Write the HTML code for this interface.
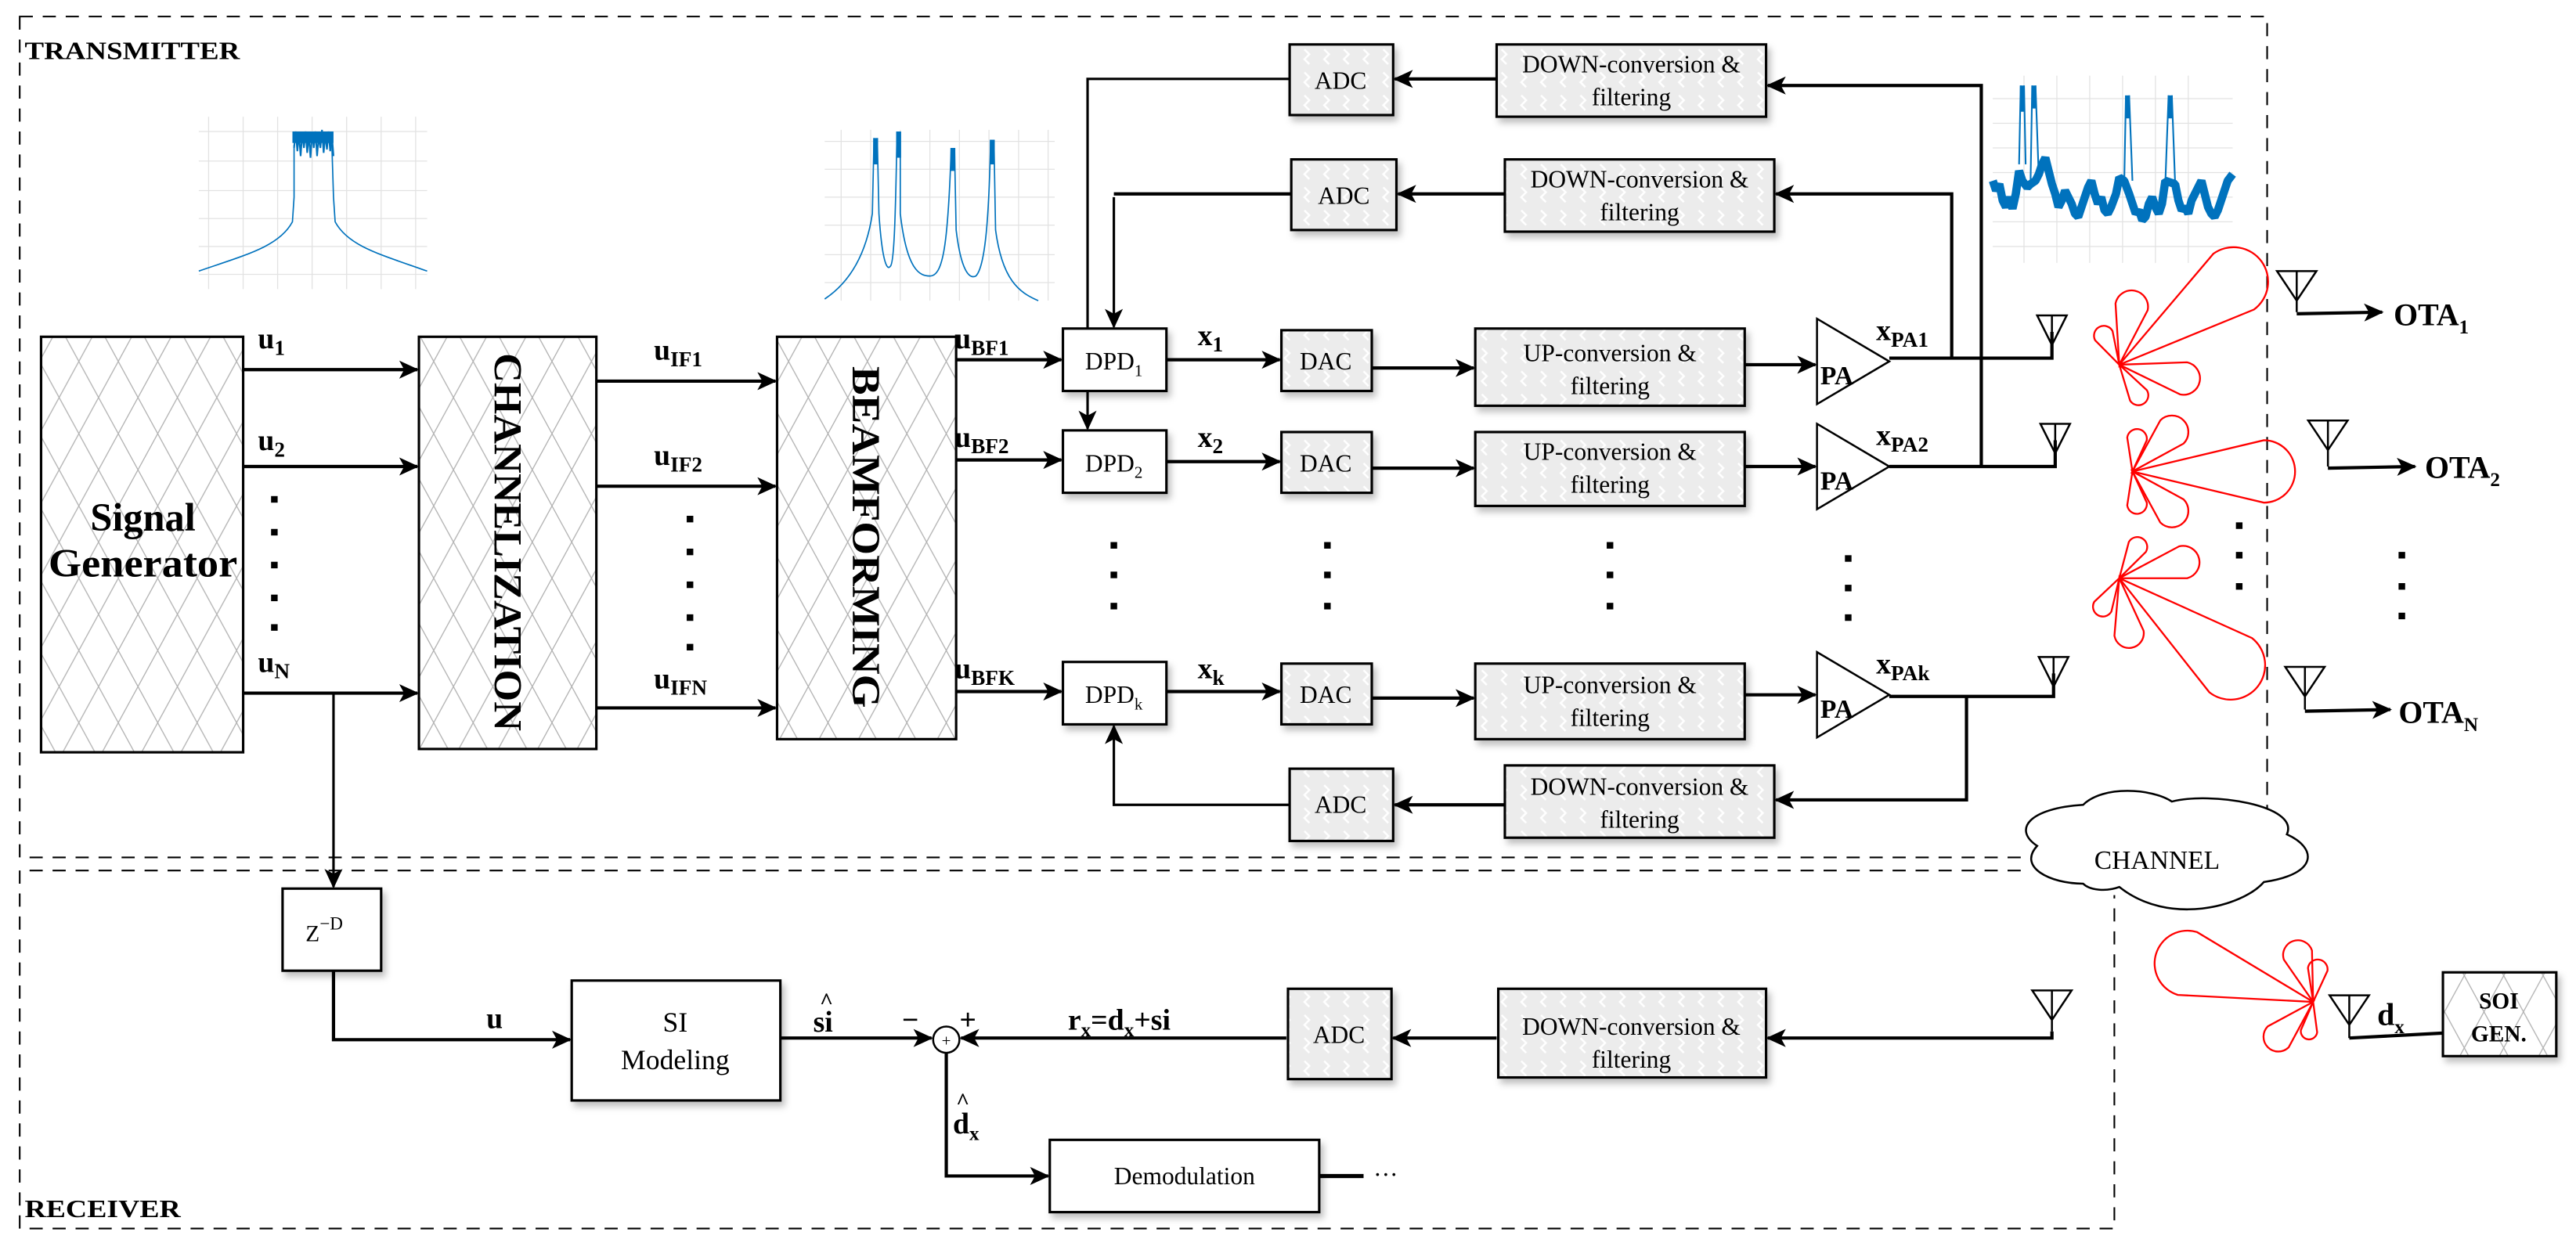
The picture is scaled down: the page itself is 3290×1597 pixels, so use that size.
<!DOCTYPE html>
<html><head><meta charset="utf-8"><style>
html,body{margin:0;padding:0;background:#fff;}
svg{display:block;}
text{font-family:"Liberation Serif",serif;fill:#000;}
.b{font-weight:bold;}
</style></head><body>
<svg xmlns="http://www.w3.org/2000/svg" width="3290" height="1597" viewBox="0 0 1568 761">
<defs>
<marker id="ar" markerUnits="userSpaceOnUse" markerWidth="12" markerHeight="12" viewBox="0 0 12 12" refX="11" refY="6" orient="auto">
<path d="M0,0.5 L12,6 L0,11.5 L3,6 z" fill="#000"/></marker>
<pattern id="xh" patternUnits="userSpaceOnUse" width="24" height="44">
<rect width="24" height="44" fill="#fff"/>
<path d="M0,0 L24,44 M24,0 L0,44" stroke="#b0b0b0" stroke-width="0.6"/></pattern>
<pattern id="gh" patternUnits="userSpaceOnUse" width="12" height="14">
<rect width="12" height="14" fill="#ececec"/>
<path d="M2,2 l3,3 l-3,3 l3,3" stroke="#fff" stroke-width="1.2" fill="none"/></pattern>
<filter id="sh" x="-10%" y="-10%" width="130%" height="140%"><feDropShadow dx="2" dy="3" stdDeviation="2" flood-opacity="0.25"/></filter>
</defs>

<g fill="none" stroke="#000" stroke-width="1" stroke-dasharray="8,6">
<path d="M12,10 L1380,10 L1380,522 L12,522 Z"/>
<path d="M1230,530 L12,530 L12,748 L1287,748 L1287,545"/>
</g>
<text x="15" y="36" class="b" font-size="15" textLength="131" lengthAdjust="spacingAndGlyphs">TRANSMITTER</text>
<text x="15" y="741" class="b" font-size="15" textLength="95" lengthAdjust="spacingAndGlyphs">RECEIVER</text>

<g stroke="#e2e2e2" stroke-width="0.6">
<path d="M121,80 H260 M121,98 H260 M121,116 H260 M121,133 H260 M121,150 H260 M121,167 H260 M127,71 V176 M148,71 V176 M169,71 V176 M190,71 V176 M211,71 V176 M232,71 V176 M253,71 V176"/>
<path d="M502,86 H642 M502,103 H642 M502,120 H642 M502,137 H642 M502,155 H642 M502,172 H642 M512,79 V183 M530,79 V183 M548,79 V183 M566,79 V183 M584,79 V183 M602,79 V183 M620,79 V183 M638,79 V183"/>
<path d="M1213,60 H1359 M1213,75 H1359 M1213,90 H1359 M1213,105 H1359 M1213,120 H1359 M1213,135 H1359 M1213,150 H1359 M1232,46 V160 M1252,46 V160 M1272,46 V160 M1292,46 V160 M1312,46 V160 M1332,46 V160"/>
</g>
<g fill="none" stroke="#0072BD">
<path stroke-width="0.8" d="M121,165 C150,155 170,150 178,135 L179,120 L179,88 M202,88 L203,120 L204,135 C212,150 232,155 260,165"/>
<path stroke-width="1" d="M179,90 L180,80 181,92 182,82 183,95 184,81 185,90 186,80 187,93 188,82 189,96 190,81 191,90 192,80 193,95 194,83 195,90 196,79 197,93 198,82 199,91 200,80 201,92 202,82 203,95"/>
<rect x="178" y="80" width="25" height="7" fill="#0072BD" stroke="none"/>
<path stroke-width="0.8" d="M502,182 C520,170 528,150 531,130 L532,84 M534,84 L535,130 C537,160 540,165 542,162 C544,160 545,140 546,80 M548,80 L548,130 C552,165 560,168 566,168 C574,168 577,150 579,90 M581,90 L582,140 C585,165 590,170 594,168 C600,162 602,130 603,85 M605,85 L606,140 C610,170 620,178 632,183"/>
<path stroke-width="3" d="M533,84 V100 M547,80 V96 M580,90 V104 M604,85 V100"/>
<path stroke-width="5" stroke-linejoin="bevel" d="M1213,110 L1215,116 1217,112 1219,122 1221,126 1223,120 1225,127 1227,118 1229,104 1231,110 1234,114 1236,112 1239,110 1241,106 1243,100 1245,96 1247,104 1249,112 1251,118 1253,126 1255,122 1257,116 1259,120 1261,124 1263,130 1265,132 1267,126 1269,120 1271,114 1273,110 1275,118 1277,124 1279,120 1281,128 1283,130 1285,126 1288,118 1290,108 1293,110 1296,118 1298,124 1300,130 1302,128 1304,134 1306,132 1308,124 1310,120 1312,126 1314,130 1316,124 1318,110 1324,112 1326,122 1328,128 1330,126 1332,130 1334,122 1336,118 1338,114 1340,110 1342,118 1344,126 1346,130 1348,132 1350,128 1352,122 1354,116 1356,110 1359,106"/>
<path stroke-width="1" d="M1229,100 L1230,52 M1232,52 L1233,100 M1236,110 L1237,52 M1239,52 L1241,108 M1293,112 L1294,60 M1296,58 L1298,110 M1318,112 L1320,58 M1322,58 L1324,112"/>
<path stroke-width="3" d="M1231,52 V68 M1238,52 V66 M1295,58 V72 M1321,58 V72"/>
</g>

<rect x="25" y="205" width="123" height="253" fill="url(#xh)" stroke="#000" stroke-width="1.5"/>
<text x="87" y="323" class="b" font-size="24" text-anchor="middle">Signal</text>
<text x="87" y="351" class="b" font-size="24" text-anchor="middle" textLength="115" lengthAdjust="spacingAndGlyphs">Generator</text>
<rect x="255" y="205" width="108" height="251" fill="url(#xh)" stroke="#000" stroke-width="1.5"/>
<text transform="translate(309,330) rotate(90)" class="b" font-size="24" text-anchor="middle" dy="8" textLength="230" lengthAdjust="spacingAndGlyphs">CHANNELIZATION</text>
<rect x="473" y="205" width="109" height="245" fill="url(#xh)" stroke="#000" stroke-width="1.5"/>
<text transform="translate(527,327) rotate(90)" class="b" font-size="24" text-anchor="middle" dy="8" textLength="208" lengthAdjust="spacingAndGlyphs">BEAMFORMING</text>

<g stroke="#000" stroke-width="2" fill="none" marker-end="url(#ar)">
<path d="M148,225 H254"/><path d="M148,284 H254"/><path d="M148,422 H254"/>
<path d="M363,232 H472"/><path d="M363,296 H472"/><path d="M363,431 H472"/>
<path d="M582,219 H646"/><path d="M582,280 H646"/><path d="M582,421 H646"/>
</g>
<g class="b" font-size="18">
<text x="157" y="212" class="b">u<tspan font-size="13" dy="4">1</tspan></text>
<text x="157" y="274" class="b">u<tspan font-size="13" dy="4">2</tspan></text>
<text x="157" y="409" class="b">u<tspan font-size="13" dy="4">N</tspan></text>
<text x="398" y="219" class="b">u<tspan font-size="13" dy="4">IF1</tspan></text>
<text x="398" y="283" class="b">u<tspan font-size="13" dy="4">IF2</tspan></text>
<text x="398" y="419" class="b">u<tspan font-size="13" dy="4">IFN</tspan></text>
<text x="581" y="212" class="b">u<tspan font-size="13" dy="4">BF1</tspan></text>
<text x="581" y="272" class="b">u<tspan font-size="13" dy="4">BF2</tspan></text>
<text x="581" y="413" class="b">u<tspan font-size="13" dy="4">BFK</tspan></text>
<text x="729" y="210" class="b">x<tspan font-size="13" dy="4">1</tspan></text>
<text x="729" y="272" class="b">x<tspan font-size="13" dy="4">2</tspan></text>
<text x="729" y="413" class="b">x<tspan font-size="13" dy="4">k</tspan></text>
<text x="1142" y="207" class="b">x<tspan font-size="13" dy="4">PA1</tspan></text>
<text x="1142" y="271" class="b">x<tspan font-size="13" dy="4">PA2</tspan></text>
<text x="1142" y="410" class="b">x<tspan font-size="13" dy="4">PAk</tspan></text>
</g>
<g fill="#000">
<rect x="165" y="302" width="4" height="4"/><rect x="165" y="322" width="4" height="4"/><rect x="165" y="342" width="4" height="4"/><rect x="165" y="362" width="4" height="4"/><rect x="165" y="380" width="4" height="4"/>
<rect x="418" y="314" width="4" height="4"/><rect x="418" y="334" width="4" height="4"/><rect x="418" y="354" width="4" height="4"/><rect x="418" y="374" width="4" height="4"/><rect x="418" y="392" width="4" height="4"/>
<rect x="676" y="330" width="4" height="4"/><rect x="676" y="348" width="4" height="4"/><rect x="676" y="367" width="4" height="4"/>
<rect x="806" y="330" width="4" height="4"/><rect x="806" y="348" width="4" height="4"/><rect x="806" y="367" width="4" height="4"/>
<rect x="978" y="330" width="4" height="4"/><rect x="978" y="348" width="4" height="4"/><rect x="978" y="367" width="4" height="4"/>
<rect x="1123" y="338" width="4" height="4"/><rect x="1123" y="356" width="4" height="4"/><rect x="1123" y="374" width="4" height="4"/>
<rect x="1361" y="318" width="4" height="4"/><rect x="1361" y="336" width="4" height="4"/><rect x="1361" y="355" width="4" height="4"/>
<rect x="1460" y="336" width="4" height="4"/><rect x="1460" y="355" width="4" height="4"/><rect x="1460" y="373" width="4" height="4"/>
</g>

<g fill="#fff" stroke="#000" stroke-width="1.5" filter="url(#sh)">
<rect x="647" y="200" width="63" height="38"/><rect x="647" y="262" width="63" height="38"/><rect x="647" y="403" width="63" height="38"/>
<rect x="172" y="541" width="60" height="50"/><rect x="348" y="597" width="127" height="73"/><rect x="639" y="694" width="164" height="44"/>
</g>
<g font-size="15">
<text x="678" y="225" text-anchor="middle">DPD<tspan font-size="10" dy="4">1</tspan></text>
<text x="678" y="287" text-anchor="middle">DPD<tspan font-size="10" dy="4">2</tspan></text>
<text x="678" y="428" text-anchor="middle">DPD<tspan font-size="10" dy="4">k</tspan></text>
<text x="186" y="573" font-size="14">Z<tspan font-size="11" dy="-7">−D</tspan></text>
<text x="411" y="628" text-anchor="middle" font-size="17">SI</text>
<text x="411" y="651" text-anchor="middle" font-size="17">Modeling</text>
<text x="721" y="721" text-anchor="middle">Demodulation</text>
</g>

<g fill="url(#gh)" stroke="#000" stroke-width="1.5" filter="url(#sh)">
<rect x="780" y="201" width="55" height="37"/><rect x="780" y="263" width="55" height="37"/><rect x="780" y="404" width="55" height="37"/>
<rect x="898" y="200" width="164" height="47"/><rect x="898" y="263" width="164" height="45"/><rect x="898" y="404" width="164" height="46"/>
<rect x="785" y="27" width="63" height="43"/><rect x="911" y="27" width="164" height="44"/>
<rect x="786" y="97" width="64" height="43"/><rect x="916" y="97" width="164" height="44"/>
<rect x="785" y="468" width="63" height="44"/><rect x="916" y="466" width="164" height="44"/>
<rect x="784" y="602" width="63" height="55"/><rect x="912" y="602" width="163" height="54"/>
</g>
<g font-size="15" text-anchor="middle">
<text x="807" y="225">DAC</text><text x="807" y="287">DAC</text><text x="807" y="428">DAC</text>
<text x="980" y="220">UP-conversion &amp;</text><text x="980" y="240">filtering</text>
<text x="980" y="280">UP-conversion &amp;</text><text x="980" y="300">filtering</text>
<text x="980" y="422">UP-conversion &amp;</text><text x="980" y="442">filtering</text>
<text x="816" y="54">ADC</text><text x="993" y="44">DOWN-conversion &amp;</text><text x="993" y="64">filtering</text>
<text x="818" y="124">ADC</text><text x="998" y="114">DOWN-conversion &amp;</text><text x="998" y="134">filtering</text>
<text x="816" y="495">ADC</text><text x="998" y="484">DOWN-conversion &amp;</text><text x="998" y="504">filtering</text>
<text x="815" y="635">ADC</text><text x="993" y="630">DOWN-conversion &amp;</text><text x="993" y="650">filtering</text>
</g>

<g fill="#fff" stroke="#000" stroke-width="1.2">
<path d="M1106,194 L1150,220 L1106,246 Z"/><path d="M1106,258 L1150,284 L1106,310 Z"/><path d="M1106,397 L1150,423 L1106,449 Z"/>
</g>
<g class="b" font-size="16">
<text x="1108" y="234" class="b">PA</text><text x="1108" y="298" class="b">PA</text><text x="1108" y="437" class="b">PA</text>
</g>

<g stroke="#000" stroke-width="2" fill="none" marker-end="url(#ar)">
<path d="M710,219 H779"/><path d="M710,281 H779"/><path d="M710,421 H779"/>
<path d="M835,224 H897"/><path d="M835,285 H897"/><path d="M835,425 H897"/>
<path d="M1062,222 H1105"/><path d="M1062,284 H1105"/><path d="M1062,423 H1105"/>
<path d="M1206,284 V52 H1076"/><path d="M911,48 H849"/>
<path d="M1188,218 V118 H1081"/><path d="M916,118 H851"/>
<path d="M1197,424 V487 H1081"/><path d="M916,490 H849"/>
<path d="M678,120 V199" stroke-width="1.5"/>
<path d="M662,238 V261" stroke-width="1.5"/>
<path d="M785,490 H678 V442" stroke-width="1.5"/>
</g>
<g stroke="#000" stroke-width="2" fill="none">
<path d="M785,48 H662 V200" stroke-width="1.5"/>
<path d="M786,118 H678"/>
<path d="M1150,218 H1249 V202"/><path d="M1150,284 H1251 V268"/><path d="M1150,424 H1250 V410"/>
</g>
<g fill="none" stroke="#000" stroke-width="1.2">
<path d="M1240,192 L1258,192 L1249,210 Z M1249,192 V210"/>
<path d="M1242,258 L1260,258 L1251,276 Z M1251,258 V276"/>
<path d="M1241,400 L1259,400 L1250,418 Z M1250,400 V418"/>
<path d="M1386,165 L1410,165 L1398,183 Z M1398,165 V190"/>
<path d="M1405,256 L1429,256 L1417,274 Z M1417,256 V284"/>
<path d="M1391,406 L1415,406 L1403,424 Z M1403,406 V432"/>
<path d="M1237,603 L1261,603 L1249,621 Z M1249,603 V628"/>
<path d="M1418,606 L1442,606 L1430,624 Z M1430,606 V632"/>
</g>
<g stroke="#000" stroke-width="2" fill="none" marker-end="url(#ar)">
<path d="M1398,191 L1450,190"/><path d="M1417,285 L1470,284"/><path d="M1403,433 L1455,432"/>
</g>
<g class="b" font-size="19">
<text x="1457" y="198" class="b">OTA<tspan font-size="12" dy="5">1</tspan></text>
<text x="1476" y="291" class="b">OTA<tspan font-size="12" dy="5">2</tspan></text>
<text x="1460" y="440" class="b">OTA<tspan font-size="12" dy="5">N</tspan></text>
</g>

<g fill="none" stroke="#ff0000" stroke-width="1.1">
<g transform="translate(1290,222)">
<path transform="rotate(-36)" d="M0,0 L86,-21 A21,21 0 1 1 86,21 Z"/>
<path transform="rotate(-78)" d="M0,0 L36,-10 A10,10 0 1 1 36,10 Z"/>
<path transform="rotate(-118)" d="M0,0 L20,-6 A6,6 0 1 1 20,6 Z"/>
<path transform="rotate(12)" d="M0,0 L40,-10 A10,10 0 1 1 40,10 Z"/>
<path transform="rotate(58)" d="M0,0 L22,-6 A6,6 0 1 1 22,6 Z"/>
</g>
<g transform="translate(1298,287)">
<path transform="rotate(0)" d="M0,0 L80,-19 A19,19 0 1 1 80,19 Z"/>
<path transform="rotate(-45)" d="M0,0 L34,-10 A10,10 0 1 1 34,10 Z"/>
<path transform="rotate(-82)" d="M0,0 L20,-6 A6,6 0 1 1 20,6 Z"/>
<path transform="rotate(45)" d="M0,0 L34,-10 A10,10 0 1 1 34,10 Z"/>
<path transform="rotate(82)" d="M0,0 L20,-6 A6,6 0 1 1 20,6 Z"/>
</g>
<g transform="translate(1290,352)">
<path transform="rotate(38)" d="M0,0 L86,-21 A21,21 0 1 1 86,21 Z"/>
<path transform="rotate(-14)" d="M0,0 L40,-10 A10,10 0 1 1 40,10 Z"/>
<path transform="rotate(-60)" d="M0,0 L22,-6 A6,6 0 1 1 22,6 Z"/>
<path transform="rotate(80)" d="M0,0 L34,-9 A9,9 0 1 1 34,9 Z"/>
<path transform="rotate(120)" d="M0,0 L20,-6 A6,6 0 1 1 20,6 Z"/>
</g>
<g transform="translate(1408,610)">
<path transform="rotate(-163)" d="M0,0 L80,-20 A20,20 0 1 1 80,20 Z"/>
<path transform="rotate(-108)" d="M0,0 L30,-9 A9,9 0 1 1 30,9 Z"/>
<path transform="rotate(-82)" d="M0,0 L20,-6 A6,6 0 1 1 20,6 Z"/>
<path transform="rotate(135)" d="M0,0 L30,-9 A9,9 0 1 1 30,9 Z"/>
<path transform="rotate(98)" d="M0,0 L18,-5 A5,5 0 1 1 18,5 Z"/>
</g>
</g>

<path d="M1268,538 C1248,538 1228,528 1240,515 C1225,505 1235,492 1268,490 C1280,478 1310,480 1322,488 C1345,482 1400,490 1392,508 C1410,516 1412,532 1378,537 C1365,552 1320,564 1290,540 C1282,543 1272,542 1268,538 Z" fill="#fff" stroke="#000" stroke-width="1.2"/>
<text x="1313" y="529" text-anchor="middle" font-size="16">CHANNEL</text>

<rect x="1487" y="592" width="69" height="51" fill="url(#xh)" stroke="#000" stroke-width="1.5" filter="url(#sh)"/>
<text x="1521" y="614" text-anchor="middle" class="b" font-size="14">SOI</text>
<text x="1521" y="634" text-anchor="middle" class="b" font-size="14">GEN.</text>
<path d="M1430,632 L1487,629" stroke="#000" stroke-width="2"/>
<text x="1447" y="624" class="b" font-size="19">d<tspan font-size="12" dy="5">x</tspan></text>

<g stroke="#000" stroke-width="2" fill="none" marker-end="url(#ar)">
<path d="M1249,628 V632 H1076"/>
<path d="M911,632 H848"/>
<path d="M783,632 H585"/>
<path d="M475,632 H567"/>
<path d="M203,591 V633 H347"/>
<path d="M576,641 V716 H638"/>
<path d="M203,422 V540" stroke-width="1.5"/>
</g>
<path d="M803,716 H830" stroke="#000" stroke-width="2.5"/>
<text x="836" y="720" font-size="15">···</text>
<circle cx="576" cy="633" r="8" fill="#fff" stroke="#000" stroke-width="1.2"/>
<text x="576" y="637" text-anchor="middle" font-size="10">+</text>
<text x="296" y="626" class="b" font-size="18">u</text>
<text x="495" y="628" class="b" font-size="18">si</text>
<text x="499" y="614" class="b" font-size="14">^</text>
<text x="549" y="627" class="b" font-size="18">−</text>
<text x="584" y="627" class="b" font-size="18">+</text>
<text x="650" y="627" class="b" font-size="18">r<tspan font-size="12" dy="4">x</tspan><tspan dy="-4">=d</tspan><tspan font-size="12" dy="4">x</tspan><tspan dy="-4">+si</tspan></text>
<text x="580" y="690" class="b" font-size="18">d<tspan font-size="12" dy="4">x</tspan></text>
<text x="582" y="675" class="b" font-size="14">^</text>
</svg>
</body></html>
